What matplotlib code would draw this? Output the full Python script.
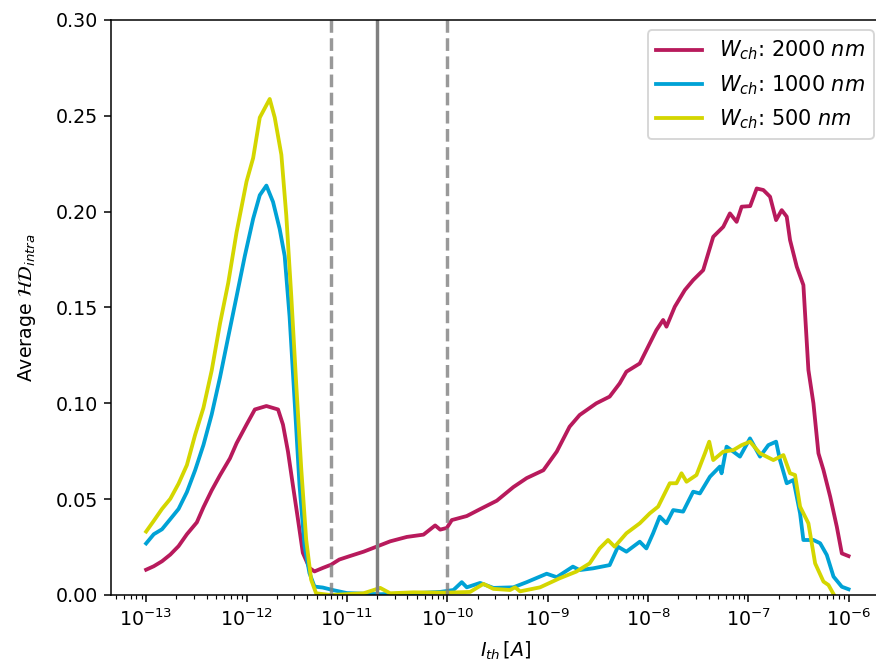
"""Average intra-HD versus threshold current for three channel widths"""

import numpy as np
import matplotlib
matplotlib.use('Agg')
import matplotlib.pyplot as plt

# -----------------------------------------------------------------------------
# Data (x as log10 of the threshold current)

log_ith_2000 = [-13.0, -12.924, -12.842, -12.759, -12.677, -12.594, -12.495,
                -12.429, -12.347, -12.264, -12.165, -12.099, -12.0, -11.917,
                -11.802, -11.686, -11.637, -11.587, -11.538, -11.488, -11.439,
                -11.373, -11.323, -11.241, -11.158, -11.076, -10.977, -10.834,
                -10.701, -10.569, -10.403, -10.237, -10.121, -10.071, -10.005,
                -9.955, -9.806, -9.673, -9.507, -9.342, -9.209, -9.043, -8.910,
                -8.782, -8.682, -8.516, -8.383, -8.283, -8.216, -8.083, -7.983,
                -7.917, -7.850, -7.817, -7.734, -7.634, -7.551, -7.451, -7.351,
                -7.251, -7.185, -7.118, -7.068, -6.983, -6.918, -6.852, -6.785,
                -6.725, -6.669, -6.619, -6.586, -6.519, -6.453, -6.403, -6.353,
                -6.303, -6.253, -6.186, -6.12, -6.07, -6.003]
hd_2000 = [0.0132, 0.0150, 0.0176, 0.0211, 0.0255, 0.0317, 0.0379, 0.0458,
           0.0546, 0.0625, 0.0713, 0.0792, 0.0889, 0.0968, 0.0986, 0.0968,
           0.0889, 0.0748, 0.0572, 0.0396, 0.0220, 0.0141, 0.0123, 0.0141,
           0.0158, 0.0185, 0.0202, 0.0226, 0.0253, 0.0280, 0.0303, 0.0315,
           0.0363, 0.0341, 0.0350, 0.0391, 0.0412, 0.0448, 0.0492, 0.0563,
           0.0610, 0.0651, 0.0748, 0.0878, 0.0939, 0.1000, 0.1035, 0.1104,
           0.1165, 0.1208, 0.1313, 0.1382, 0.1435, 0.1400, 0.1504, 0.1591,
           0.1643, 0.1695, 0.1869, 0.1921, 0.1991, 0.1947, 0.2026, 0.2029,
           0.2121, 0.2113, 0.2078, 0.1956, 0.2008, 0.1974, 0.1852, 0.1713,
           0.1617, 0.1174, 0.1000, 0.0739, 0.0652, 0.0513, 0.0356, 0.0217,
           0.0203]

log_ith_1000 = [-13.0, -12.924, -12.842, -12.759, -12.677, -12.594, -12.512,
                -12.429, -12.347, -12.264, -12.182, -12.099, -12.017, -11.934,
                -11.868, -11.802, -11.736, -11.670, -11.620, -11.571, -11.521,
                -11.472, -11.422, -11.373, -11.323, -11.241, -11.142, -11.0,
                -10.834, -10.668, -10.337, -10.071, -9.939, -9.856, -9.806,
                -9.673, -9.541, -9.342, -9.209, -9.01, -8.910, -8.749, -8.682,
                -8.549, -8.383, -8.3, -8.216, -8.083, -8.017, -7.950, -7.884,
                -7.817, -7.750, -7.651, -7.551, -7.484, -7.384, -7.285, -7.268,
                -7.218, -7.085, -6.985, -6.885, -6.802, -6.725, -6.686, -6.619,
                -6.552, -6.486, -6.453, -6.353, -6.286, -6.220, -6.153, -6.07,
                -6.003]
hd_1000 = [0.0269, 0.0317, 0.0343, 0.0396, 0.0449, 0.0537, 0.0651, 0.0783,
           0.0942, 0.1136, 0.1347, 0.1558, 0.1769, 0.1963, 0.2086, 0.2136,
           0.2051, 0.1910, 0.1769, 0.1452, 0.1012, 0.0572, 0.0255, 0.0114,
           0.0044, 0.0039, 0.0026, 0.0010, 0.0007, 0.0004, 0.0009, 0.0016,
           0.0026, 0.0067, 0.0040, 0.0063, 0.0037, 0.0040, 0.0067, 0.0111,
           0.0093, 0.0148, 0.0130, 0.0139, 0.0156, 0.0252, 0.0226, 0.0278,
           0.0243, 0.0322, 0.0409, 0.0374, 0.0443, 0.0435, 0.0539, 0.0530,
           0.0617, 0.0670, 0.0635, 0.0774, 0.0722, 0.0817, 0.0722, 0.0782,
           0.0800, 0.0704, 0.0583, 0.0600, 0.0426, 0.0287, 0.0287, 0.0270,
           0.0209, 0.0096, 0.0043, 0.0030]

log_ith_500 = [-13.0, -12.924, -12.842, -12.759, -12.677, -12.594, -12.512,
               -12.429, -12.347, -12.264, -12.182, -12.099, -12.0, -11.934,
               -11.868, -11.769, -11.719, -11.653, -11.604, -11.554, -11.505,
               -11.455, -11.406, -11.356, -11.307, -11.166, -10.834, -10.668,
               -10.569, -10.337, -10.005, -9.773, -9.640, -9.541, -9.375,
               -9.325, -9.275, -9.076, -8.882, -8.715, -8.582, -8.483, -8.399,
               -8.333, -8.216, -8.083, -7.983, -7.9, -7.784, -7.717, -7.667,
               -7.617, -7.518, -7.434, -7.391, -7.351, -7.251, -7.151, -7.068,
               -6.985, -6.885, -6.752, -6.652, -6.586, -6.536, -6.486, -6.403,
               -6.336, -6.253, -6.203, -6.153]
hd_500 = [0.0331, 0.0387, 0.0449, 0.0502, 0.0581, 0.0678, 0.0836, 0.0977,
          0.1171, 0.1417, 0.1629, 0.1893, 0.2157, 0.2280, 0.2491, 0.2588,
          0.2491, 0.2297, 0.1981, 0.1558, 0.1100, 0.0660, 0.0290, 0.0079,
          0.0009, 0.0, 0.0009, 0.0037, 0.0009, 0.0014, 0.0012, 0.0016,
          0.0058, 0.0032, 0.0026, 0.0040, 0.0019, 0.0040, 0.0087, 0.0122,
          0.0165, 0.0243, 0.0287, 0.0252, 0.0322, 0.0374, 0.0426, 0.0461,
          0.0583, 0.0583, 0.0635, 0.0591, 0.0626, 0.0739, 0.0800, 0.0704,
          0.0748, 0.0756, 0.0782, 0.0800, 0.0739, 0.0704, 0.0730, 0.0635,
          0.0626, 0.0461, 0.0374, 0.0165, 0.0070, 0.0052, 0.0005]

widths = ['2000', '1000', '500']
colors = ['#b81a5c', '#00a2d6', '#d4d600']

# Reference threshold currents (marker lines)
ith_bounds = [7e-12, 1e-10]
ith_center = 2e-11

# -----------------------------------------------------------------------------

dpi = 137
fig = plt.figure(figsize=(876 / dpi, 664 / dpi), dpi=dpi)
ax = fig.add_axes([111 / 876, 1 - 595 / 664, (884 - 111) / 876, 575 / 664])

series = [(log_ith_2000, hd_2000), (log_ith_1000, hd_1000),
          (log_ith_500, hd_500)]
for (lx, hd), w, c in zip(series, widths, colors):
    ax.plot(10 ** np.array(lx), hd, color=c, lw=2,
            label=r'$W_{ch}$: ' + w + r' $nm$')

for xb in ith_bounds:
    ax.axvline(xb, color='gray', ls='--', lw=1.8, alpha=0.8)
ax.axvline(ith_center, color='gray', ls='-', lw=1.8)

ax.set_xscale('log')
ax.set_xlim(10 ** -13.35, 10 ** -5.65)
ax.set_ylim(0, 0.30)
ax.set_xticks([10.0 ** e for e in range(-13, -5)])
ax.yaxis.set_major_formatter(plt.FormatStrFormatter('%.2f'))

ax.set_xlabel(r'$I_{th}\,[A]$')
ax.xaxis.set_label_coords(0.51, -0.078)
ax.set_ylabel(r'Average $\mathcal{HD}_{intra}$', labelpad=9)
ax.legend(loc='upper right', fontsize=11, handlelength=2.2)

plt.savefig('out.png', dpi=dpi)
plt.close()
